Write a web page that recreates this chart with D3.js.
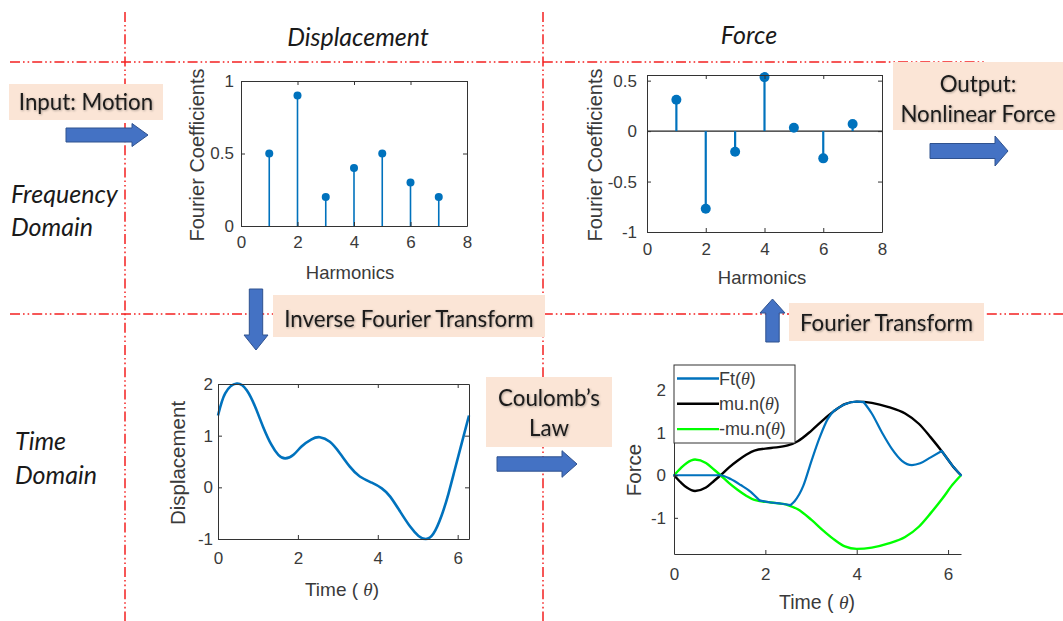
<!DOCTYPE html>
<html>
<head>
<meta charset="utf-8">
<script src="https://cdn.jsdelivr.net/npm/d3@7"></script>
<style>
  body { margin: 0; background: #fff; }
  svg { display: block; }
</style>
</head>
<body>
<svg id="c" width="1063" height="621"></svg>
<script>
// ---------- data ----------
const harmonics = [1, 2, 3, 4, 5, 6, 7];
const dispCoeffs = [0.5, 0.9, 0.2, 0.4, 0.5, 0.3, 0.2];
const forceCoeffs = [0.31, -0.77, -0.205, 0.535, 0.033, -0.27, 0.07];
const harmonicTicks = [0, 2, 4, 6, 8];

// displacement over one period
const dispTheta = [0, 0.18, 0.47, 0.72, 0.93, 1.13, 1.34, 1.51, 1.68, 1.89, 2.09, 2.34, 2.55, 2.80, 3.05, 3.30, 3.55, 3.85, 4.10, 4.31, 4.56, 4.81, 5.02, 5.20, 5.39, 5.60, 5.77, 5.93, 6.10, 6.283];
const dispValue = [1.39, 1.82, 2.01, 1.88, 1.56, 1.17, 0.82, 0.63, 0.56, 0.63, 0.79, 0.93, 0.97, 0.88, 0.66, 0.40, 0.21, 0.09, -0.02, -0.18, -0.47, -0.76, -0.94, -1.0, -0.90, -0.54, -0.12, 0.35, 0.85, 1.39];

// friction limit mu*n(theta); the lower limit is its negative
const limitTheta = [0, 0.15, 0.28, 0.46, 0.7, 0.88, 1.02, 1.2, 1.39, 1.58, 1.76, 2.12, 2.49, 2.71, 3.01, 3.30, 3.52, 3.74, 4.0, 4.33, 4.70, 5.06, 5.36, 5.62, 5.88, 6.10, 6.283];
const muN = [0, -0.17, -0.29, -0.37, -0.29, -0.13, 0, 0.18, 0.34, 0.48, 0.58, 0.64, 0.70, 0.80, 1.05, 1.33, 1.52, 1.67, 1.73, 1.70, 1.60, 1.45, 1.21, 0.89, 0.54, 0.22, 0];

// friction force Ft(theta), split into pieces at its sticking/sliding corners
const ftPieces = [
  { theta: [0, 0.5, 0.95, 1.02, 1.24, 1.46, 1.68, 1.87], value: [0, 0, 0, 0, -0.09, -0.23, -0.39, -0.59] },
  { theta: [1.87, 2.12, 2.36, 2.55], value: [-0.59, -0.64, -0.67, -0.70] },
  { theta: [2.55, 2.64, 2.83, 3.01, 3.19, 3.37, 3.51], value: [-0.70, -0.61, -0.25, 0.34, 0.89, 1.33, 1.52] },
  { theta: [3.51, 3.74, 4.0, 4.15], value: [1.52, 1.67, 1.73, 1.72] },
  { theta: [4.15, 4.33, 4.55, 4.77, 4.99, 5.21, 5.39, 5.62, 5.86], value: [1.72, 1.45, 1.01, 0.62, 0.34, 0.24, 0.28, 0.42, 0.57] },
  { theta: [5.86, 6.10, 6.283], value: [0.57, 0.22, 0] }
];

const coeffTicksDisp = [0, 0.5, 1];
const coeffTicksForce = [-1, -0.5, 0, 0.5];
const timeTicks = [0, 2, 4, 6];
const dispTicks = [-1, 0, 1, 2];
const forceTicks = [-1, 0, 1, 2];
const legendLabels = ["Ft(", "mu.n(", "-mu.n("];

// ---------- styles ----------
const BLUE = "#0072BD";
const GREEN = "#00FF00";
const AXIS = "#333";
const TICKTXT = "#3a3a3a";
const PEACH = "#FBE5D6";
const ARROW = "#4472C4";
const DIAG_FONT = "Lato, 'Open Sans', sans-serif";
const PLOT_FONT = "'Liberation Sans', Arial, sans-serif";

const svg = d3.select("#c");
const defs = svg.append("defs");
const sh = defs.append("filter").attr("id", "shadow").attr("x", "-10%").attr("y", "-20%").attr("width", "130%").attr("height", "150%");
sh.append("feDropShadow").attr("dx", 0.8).attr("dy", 0.8).attr("stdDeviation", 0.9).attr("flood-color", "#000").attr("flood-opacity", 0.35);

// ---------- grid of dash-dot-dot separators ----------
const sep = svg.append("g").attr("stroke", "#f42020").attr("stroke-width", 1.5).attr("fill", "none").attr("stroke-dasharray", "10,3,1.6,3,1.6,3");
sep.append("line").attr("x1", 10).attr("x2", 986).attr("y1", 62).attr("y2", 62);
sep.append("line").attr("x1", 10).attr("x2", 1063).attr("y1", 314).attr("y2", 314);
sep.append("line").attr("x1", 125).attr("x2", 125).attr("y1", 12).attr("y2", 621);
sep.append("line").attr("x1", 543).attr("x2", 543).attr("y1", 12).attr("y2", 621);

// ---------- section headings ----------
const head = svg.append("g").attr("font-family", DIAG_FONT).attr("font-style", "italic").attr("font-size", 25).attr("fill", "#1a1a1a");
head.append("text").attr("x", 358).attr("y", 36).attr("text-anchor", "middle").attr("dominant-baseline", "central").text("Displacement");
head.append("text").attr("x", 749).attr("y", 34).attr("text-anchor", "middle").attr("dominant-baseline", "central").text("Force");
[["Frequency", 11, 193], ["Domain", 11, 226], ["Time", 15, 440], ["Domain", 15, 474]].forEach(([t, x, y]) =>
  head.append("text").attr("x", x).attr("y", y).attr("dominant-baseline", "central").text(t));

// ---------- annotation boxes ----------
function note(x, y, w, h, lines, cy, gap) {
  const g = svg.append("g");
  g.append("rect").attr("x", x).attr("y", y).attr("width", w).attr("height", h).attr("fill", PEACH);
  lines.forEach((t, i) => g.append("text")
    .attr("x", x + w / 2).attr("y", cy + i * gap)
    .attr("text-anchor", "middle").attr("dominant-baseline", "central")
    .attr("font-family", DIAG_FONT).attr("font-size", 22.3).attr("fill", "#1a1a1a")
    .attr("filter", "url(#shadow)").text(t));
}
note(9, 84, 154, 36, ["Input: Motion"], 101, 0);
note(273, 295, 272, 42, ["Inverse Fourier Transform"], 318, 0);
note(486, 377, 126, 70, ["Coulomb\u2019s", "Law"], 397, 30);
note(789, 303, 195, 38, ["Fourier Transform"], 322, 0);
note(893, 62, 170, 68, ["Output:", "Nonlinear Force"], 83, 30);

// ---------- block arrows ----------
function hArrow(x0, x1, hx, cy, s, h) {
  return `M${x0},${cy - s}H${hx}V${cy - h}L${x1},${cy}L${hx},${cy + h}V${cy + s}H${x0}Z`;
}
function vArrow(cx, y0, y1, hy, s, h) {
  return `M${cx - s},${y0}V${hy}H${cx - h}L${cx},${y1}L${cx + h},${hy}H${cx + s}V${y0}Z`;
}
const arrows = svg.append("g").attr("fill", ARROW).attr("stroke", "#2F528F").attr("stroke-width", 1);
arrows.append("path").attr("d", hArrow(66, 148, 132, 135, 7, 11.5));
arrows.append("path").attr("d", hArrow(497, 577, 562, 464, 7.2, 13.3));
arrows.append("path").attr("d", hArrow(930, 1008, 995, 151, 7.5, 15));
arrows.append("path").attr("d", vArrow(256, 289, 350, 335, 6.7, 12));
arrows.append("path").attr("d", vArrow(772.5, 342, 299, 313, 6.7, 12.5));

// ---------- plot helpers ----------
const fmt = d => String(d);

function axes(g, x, y, o) {
  const [xl, xr] = x.range();
  const [yb, yt] = y.range();
  const style = sel => {
    sel.selectAll("path.domain").attr("stroke", AXIS).attr("stroke-width", 1);
    sel.selectAll(".tick line").attr("stroke", AXIS);
    sel.selectAll("text").attr("font-family", PLOT_FONT).attr("font-size", 17).attr("fill", TICKTXT);
  };
  g.append("g").attr("transform", `translate(0,${yb})`)
    .call(d3.axisBottom(x).tickValues(o.xTicks).tickFormat(fmt).tickSizeInner(-4).tickSizeOuter(0).tickPadding(o.xPad))
    .call(style);
  g.append("g").attr("transform", `translate(${xl},0)`)
    .call(d3.axisLeft(y).tickValues(o.yTicks).tickFormat(fmt).tickSizeInner(-4).tickSizeOuter(0).tickPadding(o.yPad))
    .call(style);
  if (o.box) {
    g.append("g").attr("transform", `translate(0,${yt})`)
      .call(d3.axisTop(x).tickValues(o.xTicks).tickFormat("").tickSizeInner(-4).tickSizeOuter(0))
      .call(style);
    g.append("g").attr("transform", `translate(${xr},0)`)
      .call(d3.axisRight(y).tickValues(o.yTicks).tickFormat("").tickSizeInner(-4).tickSizeOuter(0))
      .call(style);
  }
  g.selectAll(".domain").attr("fill", "none");
}

function xLabel(g, x, y, parts, size) {
  const t = g.append("text").attr("x", x).attr("y", y).attr("text-anchor", "middle")
    .attr("dominant-baseline", "central").attr("font-family", PLOT_FONT)
    .attr("font-size", size).attr("fill", TICKTXT);
  parts.forEach(p => {
    const s = t.append("tspan").text(p.t);
    if (p.theta) s.attr("font-family", "'Liberation Serif', serif").attr("font-style", "italic");
  });
  return t;
}
function yLabel(g, x, y, text, size) {
  g.append("text").attr("transform", `translate(${x},${y}) rotate(-90)`)
    .attr("text-anchor", "middle").attr("dominant-baseline", "central")
    .attr("font-family", PLOT_FONT).attr("font-size", size).attr("fill", TICKTXT).text(text);
}
const timeLabel = [{ t: "Time ( " }, { t: "\u03B8", theta: true }, { t: ")" }];

// ---------- displacement spectrum ----------
{
  const g = svg.append("g");
  const x = d3.scaleLinear().domain([0, 8]).range([241, 467]);
  const y = d3.scaleLinear().domain([0, 1]).range([226, 81]);
  const pts = harmonics.map((h, i) => ({ h, v: dispCoeffs[i] }));
  g.selectAll("line.stem").data(pts).join("line").attr("class", "stem")
    .attr("x1", d => x(d.h)).attr("x2", d => x(d.h)).attr("y1", y(0)).attr("y2", d => y(d.v))
    .attr("stroke", BLUE).attr("stroke-width", 1.6);
  g.selectAll("circle").data(pts).join("circle")
    .attr("cx", d => x(d.h)).attr("cy", d => y(d.v)).attr("r", 4).attr("fill", BLUE);
  axes(g, x, y, { xTicks: harmonicTicks, yTicks: coeffTicksDisp, xPad: 10, yPad: 7, box: true });
  xLabel(g, 350, 272, [{ t: "Harmonics" }], 18.5);
  yLabel(g, 197, 155, "Fourier Coefficients", 20);
}

// ---------- force spectrum ----------
{
  const g = svg.append("g");
  const x = d3.scaleLinear().domain([0, 8]).range([647, 882]);
  const y = d3.scaleLinear().domain([-1, 0.556]).range([232, 75]);
  const pts = harmonics.map((h, i) => ({ h, v: forceCoeffs[i] }));
  g.append("line").attr("x1", x(0)).attr("x2", x(8)).attr("y1", y(0)).attr("y2", y(0))
    .attr("stroke", "#222").attr("stroke-width", 1.2);
  g.selectAll("line.stem").data(pts).join("line").attr("class", "stem")
    .attr("x1", d => x(d.h)).attr("x2", d => x(d.h)).attr("y1", y(0)).attr("y2", d => y(d.v))
    .attr("stroke", BLUE).attr("stroke-width", 2.2);
  g.selectAll("circle").data(pts).join("circle")
    .attr("cx", d => x(d.h)).attr("cy", d => y(d.v)).attr("r", 5).attr("fill", BLUE);
  axes(g, x, y, { xTicks: harmonicTicks, yTicks: coeffTicksForce, xPad: 11, yPad: 10, box: true });
  xLabel(g, 762, 277, [{ t: "Harmonics" }], 18.5);
  yLabel(g, 595, 155, "Fourier Coefficients", 20);
}

// ---------- displacement in time ----------
{
  const g = svg.append("g");
  const x = d3.scaleLinear().domain([0, 2 * Math.PI]).range([218, 469]);
  const y = d3.scaleLinear().domain([-1, 2]).range([539, 384]);
  const line = d3.line().x(d => x(d[0])).y(d => y(d[1])).curve(d3.curveNatural);
  g.append("path").datum(dispTheta.map((t, i) => [t, dispValue[i]]))
    .attr("d", line).attr("fill", "none").attr("stroke", BLUE).attr("stroke-width", 2.6);
  axes(g, x, y, { xTicks: timeTicks, yTicks: dispTicks, xPad: 13, yPad: 5, box: true });
  xLabel(g, 342, 589, timeLabel, 19);
  yLabel(g, 177, 463, "Displacement", 20.5);
}

// ---------- friction force in time ----------
{
  const g = svg.append("g");
  const x = d3.scaleLinear().domain([0, 2 * Math.PI]).range([674, 961]);
  const y = d3.scaleLinear().domain([-1.85, 2.59]).range([554, 365]);
  const line = d3.line().x(d => x(d[0])).y(d => y(d[1])).curve(d3.curveMonotoneX);
  const upper = limitTheta.map((t, i) => [t, muN[i]]);
  const lower = limitTheta.map((t, i) => [t, -muN[i]]);
  g.append("path").datum(upper).attr("d", line).attr("fill", "none").attr("stroke", "#000").attr("stroke-width", 2.4);
  g.append("path").datum(lower).attr("d", line).attr("fill", "none").attr("stroke", GREEN).attr("stroke-width", 2.4);
  ftPieces.forEach(p => g.append("path").datum(p.theta.map((t, i) => [t, p.value[i]]))
    .attr("d", line).attr("fill", "none").attr("stroke", BLUE).attr("stroke-width", 2.2)
    .attr("stroke-linejoin", "round").attr("stroke-linecap", "round"));
  axes(g, x, y, { xTicks: timeTicks, yTicks: forceTicks, xPad: 14, yPad: 8, box: false });
  xLabel(g, 817, 602, timeLabel, 19.5);
  yLabel(g, 633, 470, "Force", 20.5);

  // legend
  const lg = g.append("g");
  lg.append("rect").attr("x", 674).attr("y", 365).attr("width", 121).attr("height", 78)
    .attr("fill", "#fff").attr("stroke", AXIS).attr("stroke-width", 1);
  const colors = [BLUE, "#000", GREEN];
  legendLabels.forEach((lab, i) => {
    const cy = 378.5 + i * 25.3;
    lg.append("line").attr("x1", 677).attr("x2", 719).attr("y1", cy).attr("y2", cy)
      .attr("stroke", colors[i]).attr("stroke-width", 2.4);
    const t = lg.append("text").attr("x", 719).attr("y", cy).attr("dominant-baseline", "central")
      .attr("font-family", PLOT_FONT).attr("font-size", 18).attr("fill", TICKTXT);
    t.append("tspan").text(lab);
    t.append("tspan").attr("font-family", "'Liberation Serif', serif").attr("font-style", "italic").text("\u03B8");
    t.append("tspan").text(")");
  });
}
</script>
</body>
</html>
